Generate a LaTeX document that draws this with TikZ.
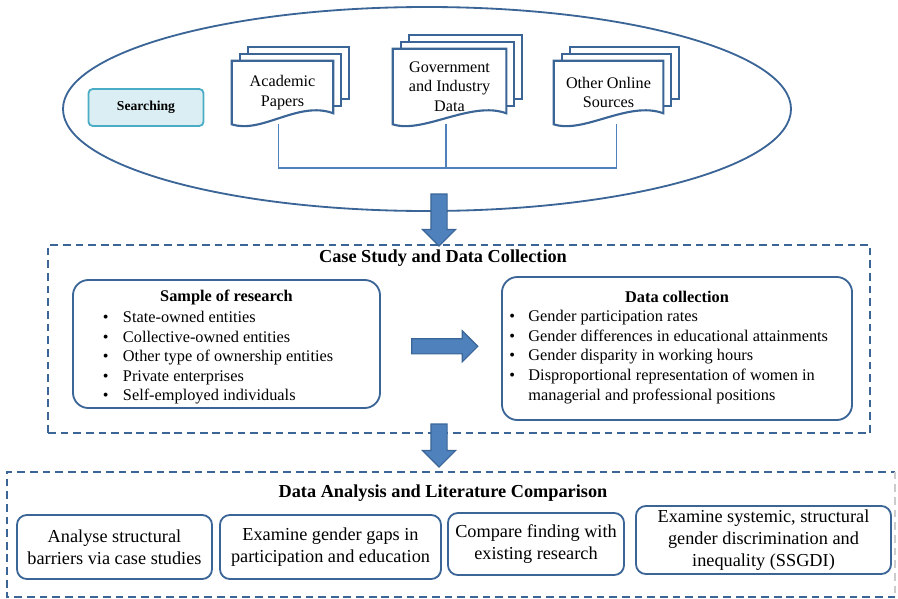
\documentclass[tikz,border=0pt]{standalone}
\usepackage{fontspec}
\setmainfont{Liberation Serif}
\usetikzlibrary{shapes.arrows, calc}
\pgfdeclarelayer{wires}
\pgfdeclarelayer{sheets}
\pgfsetlayers{wires,sheets,main}
\definecolor{frameblue}{HTML}{3A6596}
\definecolor{wireblue}{HTML}{4F81BD}
\definecolor{searchfill}{HTML}{DAEEF3}
\definecolor{searchline}{HTML}{4BACC6}
\tikzset{
frame/.style={draw=frameblue, line width=1.3pt},
roundbox/.style={frame, rounded corners=7pt, align=center,
  font=\fontsize{13}{15.6}\selectfont, inner sep=0pt},
listbox/.style={frame, rounded corners=11pt, align=center,
  font=\fontsize{11.6}{13.9}\selectfont, inner sep=0pt},
dashbox/.style={frame, dash pattern=on 5.5pt off 3.5pt},
docline/.style={frame, line width=1.5pt},
doctext/.style={align=center, font=\fontsize{11.5}{14}\selectfont, inner sep=0pt},
wire/.style={draw=wireblue, line width=1.2pt},
bigarrow/.style={single arrow, draw=frameblue, fill=wireblue, line width=0.8pt,
  single arrow tip angle=90},
searchbox/.style={draw=searchline, fill=searchfill, line width=1.3pt,
  rounded corners=3pt, font=\fontsize{9.7}{11}\selectfont\bfseries},
heading/.style={font=\fontsize{13}{15}\selectfont\bfseries}
}
% stack of three sheets behind a document node
\newcommand{\docstack}[1]{%
\begin{pgfonlayer}{sheets}
\foreach \k in {2,1} {
  \draw[docline, fill=white] ($(#1.north west)+(8*\k,-7*\k)$)
    rectangle ($(#1.south east)+(8*\k,-11-7*\k)$);
}
\draw[docline, fill=white] (#1.north west) -- (#1.south west)
  .. controls ($(#1.south west)+(30,10)$) and ($(#1.south east)+(-35,-24)$)
  .. ($(#1.south east)+(0,-11)$) -- (#1.north east) -- cycle;
\end{pgfonlayer}}

\begin{document}
\begin{tikzpicture}[x=0.025cm, y=-0.025cm]
\useasboundingbox (0,0) rectangle (898,598);

% searching stage
\node[searchbox, minimum width=2.875cm, minimum height=0.925cm] (search) at (146,107.5) {Searching};

\node[doctext, minimum width=2.525cm, minimum height=1.575cm] (acad) at (282.5,92.5) {Academic\\Papers};
\node[doctext, minimum width=2.825cm, minimum height=1.875cm] (gov) at (449.5,86.5) {Government\\and Industry\\Data};
\node[doctext, minimum width=2.725cm, minimum height=1.575cm] (other) at (608.5,92.5) {Other Online\\Sources};
\docstack{acad}
\docstack{gov}
\docstack{other}

\begin{pgfonlayer}{wires}
\draw[frameblue, line width=1.3pt] (427,109) ellipse [x radius=364, y radius=102];
\draw[wire] ([xshift=-0.1cm]acad.south) -- ++(0,44) -| ([xshift=0.2cm]other.south);
\draw[wire] ([xshift=-0.08cm]gov.south) -- ++(0,44);
\end{pgfonlayer}

% case study
\node[dashbox, minimum width=20.55cm, minimum height=4.7cm] (casebox) at (459,339) {};
\node[heading] (casetitle) at (443,258) {Case Study and Data Collection};

\node[listbox, minimum width=7.675cm, minimum height=3.2cm] (sample) at (226.5,344) {%
\rule{0pt}{14.5pt}\textbf{Sample of research}\\[1.5pt]
\begin{tabular}{@{}p{0.5cm}@{}p{5.675cm}@{}}
\textbullet & State-owned entities\\
\textbullet & Collective-owned entities\\
\textbullet & Other type of ownership entities\\
\textbullet & Private enterprises\\
\textbullet & Self-employed individuals
\end{tabular}};

\node[listbox, minimum width=8.75cm, minimum height=3.575cm] (collect) at (677,348.5) {%
\textbf{Data collection}\\[3pt]
\begin{tabular}{@{}p{0.475cm}@{}p{7.9cm}@{}}
\textbullet & Gender participation rates\\
\textbullet & Gender differences in educational attainments\\
\textbullet & Gender disparity in working hours\\
\textbullet & Disproportional representation of women in\\
 & managerial and professional positions
\end{tabular}};

% analysis
\node[minimum width=22.2cm, minimum height=3.125cm, inner sep=0pt] (anabox) at (451,534.5) {};
\draw[dashbox] (anabox.south east) -- (anabox.south west) -- (anabox.north west) -- (anabox.north east);
\draw[dashbox, draw=black!20] (anabox.north east) -- (anabox.south east);
\node[heading] (anatitle) at (443,493) {Data Analysis and Literature Comparison};

\node[roundbox, minimum width=4.875cm, minimum height=1.6cm] (barrier) at (114.5,547) {Analyse structural\\barriers via case studies};
\node[roundbox, minimum width=5.525cm, minimum height=1.6cm] (gaps) at (330.5,547) {Examine gender gaps in\\participation and education};
\node[roundbox, minimum width=4.4cm, minimum height=1.55cm] (compare) at (536,544) {Compare finding with\\existing research};
\node[roundbox, minimum width=6.375cm, minimum height=1.7cm] (ssgdi) at (763.5,540) {Examine systemic, structural\\gender discrimination and\\inequality (SSGDI)};

% block arrows
\node[bigarrow, rotate=-90, minimum height=1.3cm, inner sep=0.1875cm,
  single arrow head extend=0.2125cm] (down1) at (439,216) {};
\node[bigarrow, minimum height=1.65cm, inner sep=0.175cm,
  single arrow head extend=0.2cm] (right1) at ($(sample.east)!0.5!(collect.west)$) {};
\node[bigarrow, rotate=-90, minimum height=1.075cm, inner sep=0.1875cm,
  single arrow head extend=0.2125cm] (down2) at (439,441.5) {};

\end{tikzpicture}
\end{document}
